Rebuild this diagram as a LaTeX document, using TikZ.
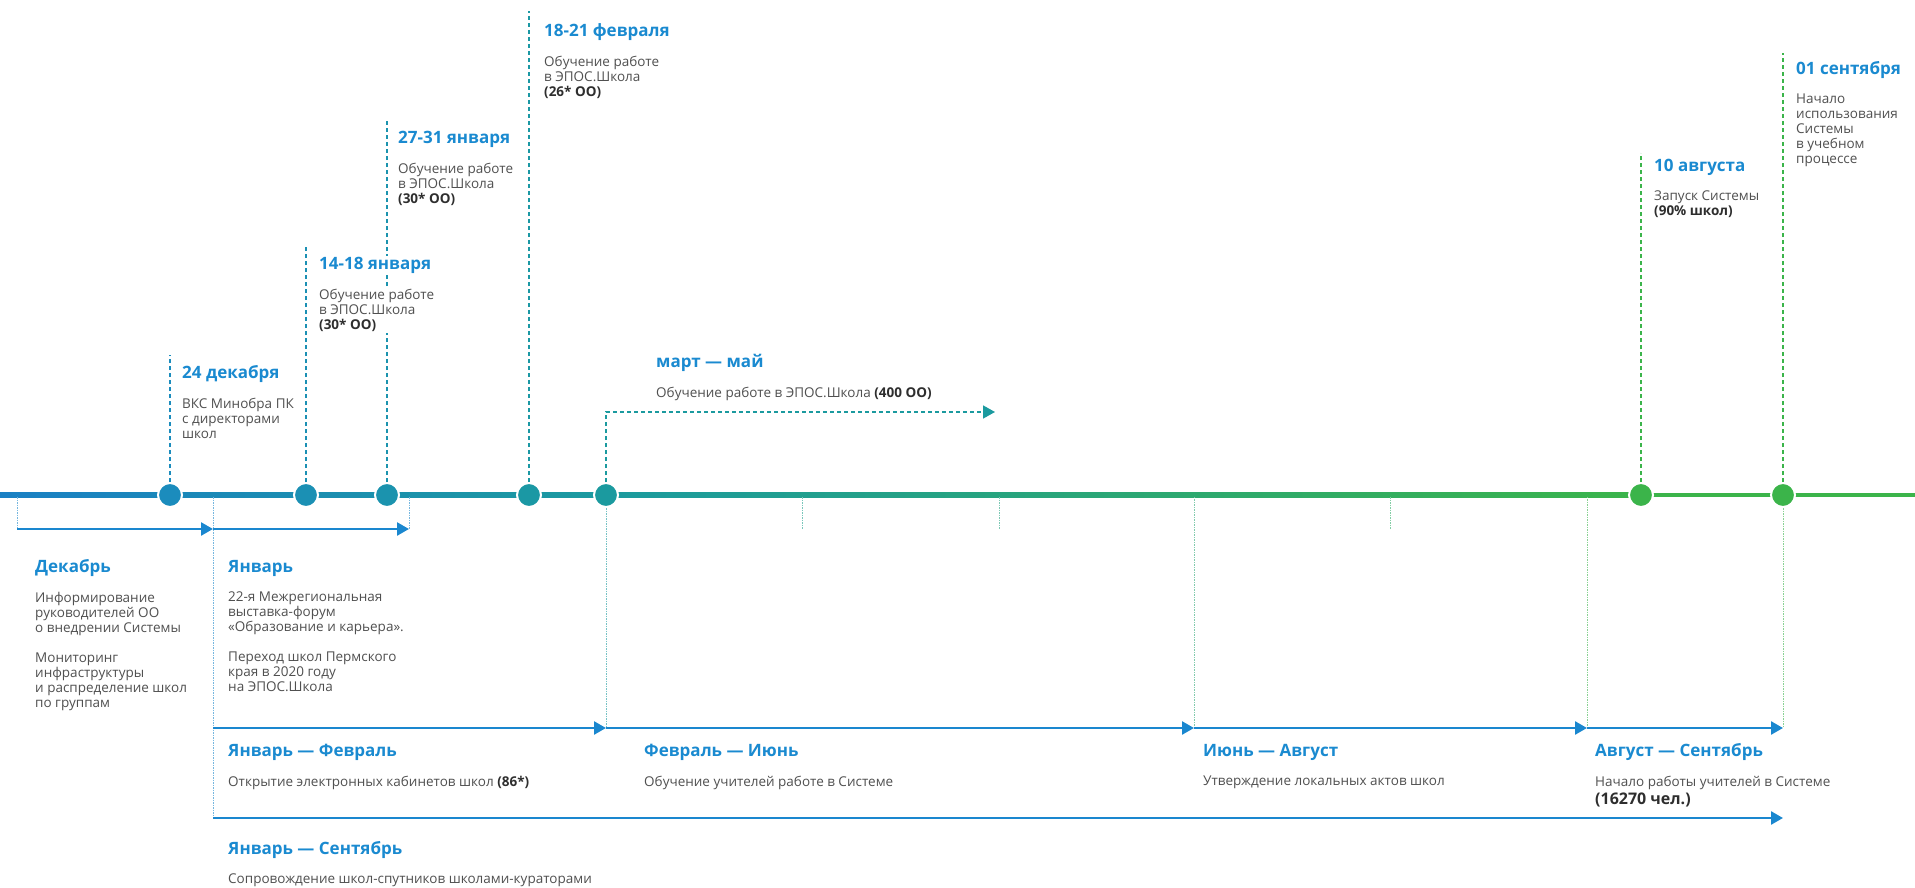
\documentclass[tikz,border=0pt]{standalone}
\usepackage{fontspec}
\setmainfont{Open Sans}
\usetikzlibrary{arrows.meta,positioning}

\definecolor{axblue}{HTML}{1A80C4}
\definecolor{tlblue}{HTML}{1B87C9}
\definecolor{tlteal}{HTML}{1B9A9F}
\definecolor{tlgreen}{HTML}{3BB44A}
\definecolor{hdblue}{HTML}{1A8AD0}
\definecolor{txtgray}{HTML}{505050}
\definecolor{txtdark}{HTML}{2E2E2E}
\definecolor{arrblue}{HTML}{1A87CF}
\colorlet{tone1}{tlblue!72!tlteal}
\colorlet{tone2}{tlblue!50!tlteal}
\colorlet{tone3}{tlblue!36!tlteal}
\colorlet{tone4}{tlblue!13!tlteal}

\newcommand\bnum[1]{{\bfseries\color{txtdark}#1}}

\begin{document}
\begin{tikzpicture}[x=1pt,y=-1pt,
    dot/.style={circle,minimum size=24pt,inner sep=0pt,draw=white,line width=2pt},
    stem/.style={line width=1.6pt,dash pattern=on 4pt off 3pt},
    guide/.style={line width=0.7pt,dash pattern=on 1.5pt off 1pt},
    head/.style={anchor=west,inner sep=1pt,fill=white,text=hdblue,
        font=\bfseries\fontsize{17}{20}\selectfont},
    body/.style={anchor=north west,inner sep=1pt,fill=white,align=left,
        text=txtgray,font=\fontsize{13.5}{15}\selectfont},
    span/.style={draw=arrblue,line width=2.5pt,-{Triangle[length=12pt,width=13pt]}}
  ]
  \useasboundingbox (0,0) rectangle (1915,888);

  % axis
  \shade[left color=axblue,right color=tlteal] (0,492.7) rectangle (606,497.3);
  \shade[left color=tlteal,right color=tlgreen] (606,492.7) rectangle (1641,497.3);
  \fill[tlgreen] (1641,492.7) rectangle (1915,497.3);

  % points on the axis
  \node[dot,fill=tone1] (d24) at (170,495) {};
  \node[dot,fill=tone2] (j14) at (306,495) {};
  \node[dot,fill=tone3] (j27) at (387,495) {};
  \node[dot,fill=tone4] (f18) at (529,495) {};
  \node[dot,fill=tlteal] (mar) at (606,495) {};
  \node[dot,fill=tlgreen] (a10) at (1641,495) {};
  \node[dot,fill=tlgreen] (s01) at (1783,495) {};

  \coordinate (d24top) at (170,355);
  \coordinate (j14top) at (306,247);
  \coordinate (j27top) at (387,120);
  \coordinate (f18top) at (529,11);
  \coordinate (a10top) at (1641,153);
  \coordinate (s01top) at (1783,53);
  \coordinate (marend) at (995,412);

  \draw[stem,draw=tone1] (d24) -- (d24top);
  \draw[stem,draw=tone2] (j14) -- (j14top);
  \draw[stem,draw=tone3] (j27) -- (j27top);
  \draw[stem,draw=tone4] (f18) -- (f18top);
  \draw[stem,draw=tlgreen] (a10) -- (a10top);
  \draw[stem,draw=tlgreen] (s01) -- (s01top);
  \draw[stem,draw=tlteal,-{Triangle[length=12pt,width=13pt]}] (mar) |- (marend);

  % rows of spans below the axis
  \coordinate (dec0) at (17,529);
  \coordinate (dec1) at (213,529);
  \coordinate (jan1) at (409,529);
  \coordinate (r0) at (213,728);
  \coordinate (r1) at (606,728);
  \coordinate (r2) at (1194,728);
  \coordinate (r3) at (1587,728);
  \coordinate (r4) at (1783,728);
  \coordinate (all0) at (213,818);
  \coordinate (all1) at (1783,818);

  \draw[guide,draw=tlblue!60] (17,497) -- (dec0);
  \draw[guide,draw=tlblue!60] (409,497) -- (jan1);
  \draw[guide,draw=tlblue!60] (213,497) -- (all0);
  \draw[guide,draw=tlteal!60] (mar) -- (r1);
  \draw[guide,draw=tlteal!50!tlgreen!60] (r2) -- (1194,497);
  \draw[guide,draw=tlgreen!60] (r3) -- (1587,497);
  \draw[guide,draw=tlgreen!60] (s01) -- (r4);
  \draw[guide,draw=tlteal!80!tlgreen!60] (802,497) -- (802,529);
  \draw[guide,draw=tlteal!65!tlgreen!60] (999,497) -- (999,529);
  \draw[guide,draw=tlteal!35!tlgreen!60] (1390,497) -- (1390,529);

  \draw[span] (dec0) -- (dec1);
  \draw[span] (dec1) -- (jan1);
  \draw[span] (r0) -- (r1);
  \draw[span] (r1) -- (r2);
  \draw[span] (r2) -- (r3);
  \draw[span] (r3) -- (r4);
  \draw[span] (all0) -- (all1);

  % events above
  \node[head] (h24) at ([xshift=11pt,yshift=-19pt]d24top) {24 декабря};
  \node[body] (t24) at ([yshift=-23pt]h24.west) {ВКС Минобра ПК\\с директорами\\школ};
  \node[head] (h14) at ([xshift=12pt,yshift=-18pt]j14top) {14-18 января};
  \node[body] (t14) at ([yshift=-23pt]h14.west) {Обучение работе\\в ЭПОС.Школа\\\bnum{(30* ОО)}};
  \node[head] (h27) at ([xshift=10pt,yshift=-19pt]j27top) {27-31 января};
  \node[body] (t27) at ([yshift=-23pt]h27.west) {Обучение работе\\в ЭПОС.Школа\\\bnum{(30* ОО)}};
  \node[head] (h18) at ([xshift=14pt,yshift=-21pt]f18top) {18-21 февраля};
  \node[body] (t18) at ([yshift=-23pt]h18.west) {Обучение работе\\в ЭПОС.Школа\\\bnum{(26* ОО)}};
  \node[head] (hmar) at (655,363) {март — май};
  \node[body] (tmar) at ([yshift=-23pt]hmar.west) {Обучение работе в ЭПОС.Школа \bnum{(400 ОО)}};
  \node[head] (h10) at ([xshift=12pt,yshift=-14pt]a10top) {10 августа};
  \node[body] (t10) at ([yshift=-23pt]h10.west) {Запуск Системы\\\bnum{(90\% школ)}};
  \node[head] (h01) at ([xshift=12pt,yshift=-17pt]s01top) {01 сентября};
  \node[body] (t01) at ([yshift=-23pt]h01.west) {Начало\\использования\\Системы\\в учебном\\процессе};

  % periods below
  \node[head] (hdec) at (34,568) {Декабрь};
  \node[body] (tdec) at ([yshift=-23pt]hdec.west) {Информирование\\руководителей ОО\\о внедрении Системы\\[15pt]Мониторинг\\инфраструктуры\\и распределение школ\\по группам};
  \node[head] (hjan) at (227,568) {Январь};
  \node[body] (tjan) at ([yshift=-23pt]hjan.west) {22-я Межрегиональная\\выставка-форум\\«Образование и карьера».\\[15pt]Переход школ Пермского\\края в 2020 году\\на ЭПОС.Школа};
  \node[head] (hjf) at (227,752) {Январь — Февраль};
  \node[body] (tjf) at ([yshift=-23pt]hjf.west) {Открытие электронных кабинетов школ \bnum{(86*)}};
  \node[head] (hfi) at (643,752) {Февраль — Июнь};
  \node[body] (tfi) at ([yshift=-23pt]hfi.west) {Обучение учителей работе в Системе};
  \node[head] (hia) at (1202,752) {Июнь — Август};
  \node[body] (tia) at ([yshift=-23pt]hia.west) {Утверждение локальных актов школ};
  \node[head] (has) at (1594,752) {Август — Сентябрь};
  \node[body] (tas) at ([yshift=-23pt]has.west) {Начало работы учителей в Системе\\[3pt]{\fontsize{16}{18}\selectfont\bnum{(16270 чел.)}}};
  \node[head] (hjs) at (227,850) {Январь — Сентябрь};
  \node[body] (tjs) at ([yshift=-23pt]hjs.west) {Сопровождение школ-спутников школами-кураторами};
\end{tikzpicture}
\end{document}
